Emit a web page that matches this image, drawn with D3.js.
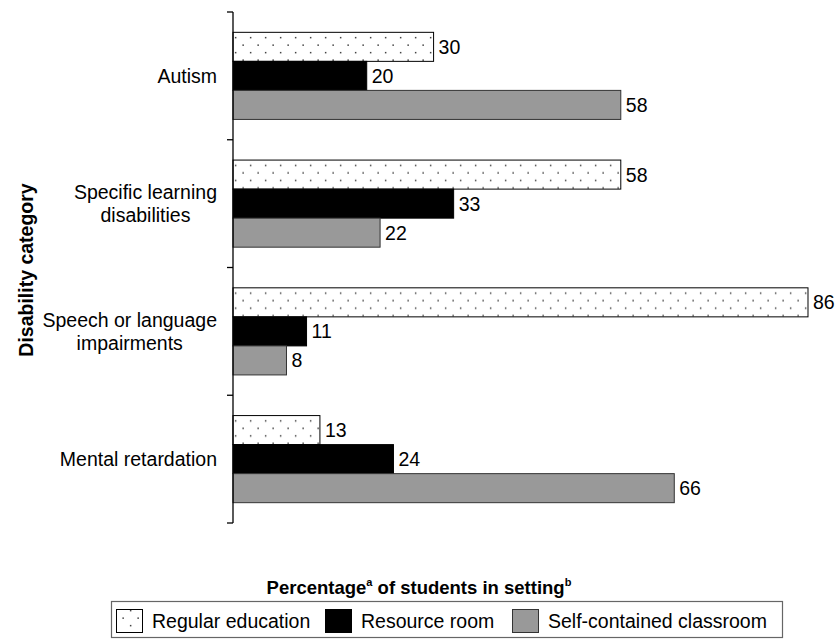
<!DOCTYPE html>
<html>
<head>
<meta charset="utf-8">
<script src="https://cdn.jsdelivr.net/npm/d3@7"></script>
<style>
  body { margin: 0; background: #fff; }
  text { font-family: "Liberation Sans", Arial, sans-serif; fill: #000; }
</style>
</head>
<body>
<script>
// categories, top to bottom (lines split for wrapping)
const categories = [
  ["Autism"],
  ["Specific learning", "disabilities"],
  ["Speech or language", "impairments"],
  ["Mental retardation"]
];
const seriesNames = ["Regular education", "Resource room", "Self-contained classroom"];
const regularEd = [30, 58, 86, 13];
const resourceRoom = [20, 33, 11, 24];
const selfContained = [58, 22, 8, 66];

const seriesValues = [regularEd, resourceRoom, selfContained];

const W = 838, H = 641;
const FS = 19.5;
const svg = d3.select("body").append("svg").attr("width", W).attr("height", H);

// pattern for regular education
const defs = svg.append("defs");
const pat = defs.append("pattern")
  .attr("id", "dots")
  .attr("patternUnits", "userSpaceOnUse")
  .attr("width", 15).attr("height", 15);
pat.append("rect").attr("width", 15).attr("height", 15).attr("fill", "#fff");
pat.append("rect").attr("x", 2.4).attr("y", 2.4).attr("width", 1.5).attr("height", 1.5).attr("fill", "#444");
pat.append("rect").attr("x", 9.9).attr("y", 9.9).attr("width", 1.5).attr("height", 1.5).attr("fill", "#444");

const fills = ["url(#dots)", "#000", "#999"];
const strokes = ["#000", "#000", "#333"];

const x0 = 233, yTop = 12, yBot = 523;

const x = d3.scaleLinear().domain([0, 100]).range([x0, x0 + 668.6]);
const y = d3.scaleBand().domain(d3.range(categories.length)).range([yTop, yBot]);
const sub = d3.scaleBand().domain(d3.range(seriesNames.length))
  .range([0, y.bandwidth()]).paddingOuter(0.7).paddingInner(0);

// bars
const groups = svg.append("g").selectAll("g")
  .data(categories.map((c, i) => i))
  .join("g")
  .attr("transform", i => `translate(0,${y(i)})`);

groups.each(function(ci) {
  const g = d3.select(this);
  seriesValues.forEach((vals, si) => {
    g.append("rect")
      .attr("x", x(0))
      .attr("y", sub(si))
      .attr("width", x(vals[ci]) - x(0))
      .attr("height", sub.bandwidth())
      .attr("fill", fills[si])
      .attr("stroke", strokes[si])
      .attr("stroke-width", 1);
    g.append("text")
      .attr("x", x(vals[ci]) + 5)
      .attr("y", sub(si) + sub.bandwidth() / 2)
      .attr("dy", "0.36em")
      .style("font-size", FS + "px")
      .text(vals[ci]);
  });
});

// y axis line + ticks at band boundaries
const axisG = svg.append("g");
axisG.append("line")
  .attr("x1", x0).attr("x2", x0).attr("y1", yTop).attr("y2", yBot)
  .attr("stroke", "#000").attr("stroke-width", 1.3);
const bounds = d3.range(categories.length + 1).map(i => yTop + i * y.step());
axisG.selectAll("line.tick").data(bounds).join("line")
  .attr("class", "tick")
  .attr("x1", x0 - 6).attr("x2", x0).attr("y1", d => d).attr("y2", d => d)
  .attr("stroke", "#000").attr("stroke-width", 1.3);

// category labels: block right-aligned, lines centered
const labRight = 217;
const labelSets = [];
categories.forEach((lines, i) => {
  const g = svg.append("g");
  const cy = y(i) + y.bandwidth() / 2;
  const lh = 23;
  const texts = lines.map((l, k) => g.append("text")
    .attr("y", cy + (k - (lines.length - 1) / 2) * lh)
    .attr("dy", "0.36em")
    .attr("text-anchor", "middle")
    .style("font-size", FS + "px")
    .text(l));
  labelSets.push(texts);
});
function placeLabels() {
  labelSets.forEach(texts => {
    const maxW = d3.max(texts, t => t.node().getBBox().width);
    texts.forEach(t => t.attr("x", labRight - maxW / 2));
  });
}
placeLabels();
if (document.fonts) document.fonts.ready.then(placeLabels);

// y title
svg.append("text")
  .attr("transform", `translate(33,270) rotate(-90)`)
  .attr("text-anchor", "middle")
  .style("font-size", "19.5px").style("font-weight", "bold")
  .text("Disability category");

// x title with superscripts
const xt = svg.append("text")
  .attr("x", 419).attr("y", 594)
  .attr("text-anchor", "middle")
  .style("font-size", "18.5px").style("font-weight", "bold");
xt.append("tspan").text("Percentage");
xt.append("tspan").attr("dy", -8).style("font-size", "11px").text("a");
xt.append("tspan").attr("dy", 8).text(" of students in setting");
xt.append("tspan").attr("dy", -8).style("font-size", "11px").text("b");

// legend
const leg = svg.append("g");
leg.append("rect")
  .attr("x", 111.5).attr("y", 601.5).attr("width", 671).attr("height", 36)
  .attr("fill", "#fff").attr("stroke", "#666").attr("stroke-width", 1.2);
const legX = [116, 325, 512];
seriesNames.forEach((name, i) => {
  leg.append("rect")
    .attr("x", legX[i] + 0.5).attr("y", 609.5).attr("width", 26).attr("height", 23)
    .attr("fill", fills[i]).attr("stroke", strokes[i]);
  leg.append("text")
    .attr("x", legX[i] + 36).attr("y", 621).attr("dy", "0.36em")
    .style("font-size", FS + "px")
    .text(name);
});
</script>
</body>
</html>
